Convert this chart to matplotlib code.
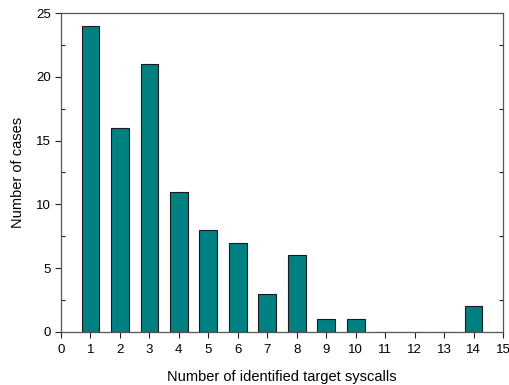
import matplotlib
matplotlib.use("Agg")
import matplotlib.pyplot as plt
from matplotlib.ticker import MultipleLocator

plt.rcParams['font.family'] = ['Liberation Sans', 'DejaVu Sans']

syscalls = [1, 2, 3, 4, 5, 6, 7, 8, 9, 10, 11, 12, 13, 14]
cases = [24, 16, 21, 11, 8, 7, 3, 6, 1, 1, 0, 0, 0, 2]

fig = plt.figure(figsize=(5.10, 3.85), dpi=100)
ax = fig.add_axes([0.1196, 0.1377, 0.8667, 0.8285])

ax.bar(syscalls, cases, width=0.6, color='#008080', edgecolor='#1a1a1a', linewidth=0.8, zorder=2)

ax.set_xlim(0, 15)
ax.set_ylim(0, 25)
ax.xaxis.set_major_locator(MultipleLocator(1))
ax.yaxis.set_major_locator(MultipleLocator(5))
ax.yaxis.set_minor_locator(MultipleLocator(2.5))

ax.tick_params(axis='both', which='major', direction='out', length=4, width=0.8,
               labelsize=9.5, colors='#222222', labelcolor='black')
ax.tick_params(axis='y', which='minor', direction='in', length=3, width=0.8,
               right=True, left=True, colors='#222222')
ax.tick_params(axis='x', which='major', pad=5)

for s in ax.spines.values():
    s.set_linewidth(0.9)
    s.set_color('#555555')

ax.set_xlabel('Number of identified target syscalls', fontsize=10.5, labelpad=10)
ax.set_ylabel('Number of cases', fontsize=10.5, labelpad=8)

fig.savefig('out.png', dpi=100)
